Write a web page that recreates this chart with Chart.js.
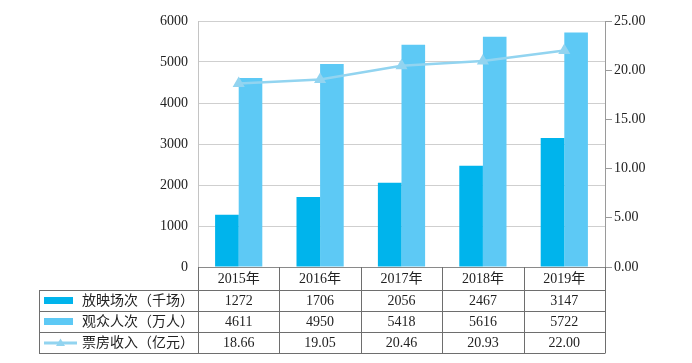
<!DOCTYPE html>
<html><head><meta charset="utf-8">
<script src="https://cdn.jsdelivr.net/npm/chart.js@4/dist/chart.umd.min.js"></script>
<style>html,body{margin:0;padding:0;background:#fff;}#wrap{width:692px;height:363px;}</style>
</head><body><div id="wrap"><canvas id="c" width="692" height="363"></canvas></div>
<script>
const categories = ['2015年', '2016年', '2017年', '2018年', '2019年'];
const screenings = [1272, 1706, 2056, 2467, 3147];
const audience = [4611, 4950, 5418, 5616, 5722];
const boxOffice = [18.66, 19.05, 20.46, 20.93, 22.00];
const seriesNames = ['放映场次（千场）', '观众人次（万人）', '票房收入（亿元）'];

const FONT = "'Liberation Serif', 'Noto Sans CJK SC', serif";
const C_DARK = '#00B4EC', C_LIGHT = '#5DC9F5', C_LINE = '#92D4F0';

const tablePlugin = {
  id: 'dataTable',
  afterDraw(chart) {
    const ctx = chart.ctx, x = chart.scales.x, area = chart.chartArea;
    const step = x.getPixelForValue(1) - x.getPixelForValue(0);
    const right = area.right, top = area.bottom;
    const headerH = 23, rowH = 21, tableLeft = 39;
    const rowsTop = top + headerH;
    const bottom = rowsTop + rowH * 3;
    ctx.save();
    ctx.strokeStyle = '#6e6e6e';
    ctx.lineWidth = 1;
    ctx.beginPath();
    for (let r = 0; r <= 3; r++) {
      const y = Math.round(rowsTop + r * rowH) + 0.5;
      ctx.moveTo(tableLeft, y); ctx.lineTo(right, y);
    }
    ctx.moveTo(tableLeft + 0.5, rowsTop); ctx.lineTo(tableLeft + 0.5, bottom);
    for (let i = 0; i <= categories.length; i++) {
      const bx = Math.round(x.getPixelForValue(0) - step / 2 + i * step) + 0.5;
      ctx.moveTo(bx, top); ctx.lineTo(bx, bottom + 0.5);
    }
    ctx.stroke();
    ctx.fillStyle = '#222';
    ctx.font = '14px ' + FONT;
    ctx.textAlign = 'center';
    ctx.textBaseline = 'middle';
    const rows = [screenings.map(String), audience.map(String), boxOffice.map(v => v.toFixed(2))];
    rows.forEach((vals, r) => {
      const cy = rowsTop + r * rowH + rowH / 2 + 1;
      vals.forEach((v, i) => ctx.fillText(v, x.getPixelForValue(i), cy));
    });
    ctx.textAlign = 'left';
    seriesNames.forEach((name, r) => {
      const cy = rowsTop + r * rowH + rowH / 2;
      if (r < 2) {
        ctx.fillStyle = r === 0 ? C_DARK : C_LIGHT;
        ctx.fillRect(44, cy - 3.5, 29, 7);
      } else {
        ctx.strokeStyle = C_LINE; ctx.lineWidth = 3;
        ctx.beginPath(); ctx.moveTo(44, cy + 0.5); ctx.lineTo(77, cy + 0.5); ctx.stroke();
        ctx.fillStyle = C_LINE;
        ctx.beginPath(); ctx.moveTo(60.5, cy - 4); ctx.lineTo(65, cy + 3.5); ctx.lineTo(56, cy + 3.5); ctx.closePath(); ctx.fill();
      }
      ctx.fillStyle = '#222';
      ctx.fillText(name, 82, cy + 1);
    });
    ctx.restore();
  }
};

new Chart(document.getElementById('c'), {
  data: {
    labels: categories,
    datasets: [
      { type: 'line', label: seriesNames[2], data: boxOffice, yAxisID: 'y1', order: 0,
        borderColor: C_LINE, backgroundColor: C_LINE, borderWidth: 2.5, tension: 0,
        pointStyle: 'triangle', pointRadius: 4.5, pointBackgroundColor: C_LINE, pointBorderColor: C_LINE },
      { type: 'bar', label: seriesNames[0], data: screenings, yAxisID: 'y', order: 1,
        backgroundColor: C_DARK, categoryPercentage: 0.58, barPercentage: 1.0 },
      { type: 'bar', label: seriesNames[1], data: audience, yAxisID: 'y', order: 1,
        backgroundColor: C_LIGHT, categoryPercentage: 0.58, barPercentage: 1.0 }
    ]
  },
  options: {
    responsive: false, animation: false, devicePixelRatio: 1,
    layout: { padding: { top: 21, bottom: 73, left: 0, right: 0 } },
    plugins: { legend: { display: false }, tooltip: { enabled: false } },
    scales: {
      x: {
        grid: { display: false, drawTicks: false },
        border: { display: true, color: '#8a8a8a' },
        ticks: { color: '#222', font: { family: FONT, size: 14 }, padding: 4, maxRotation: 0 },
        afterFit(s) { s.height = 23; }
      },
      y: {
        position: 'left', min: 0, max: 6000,
        ticks: { stepSize: 1000, color: '#222', font: { family: FONT, size: 14 }, padding: 10,
          callback: v => String(v) },
        grid: { color: '#cfcfcf', drawTicks: false },
        border: { display: true, color: '#c4c4c4' },
        afterFit(s) { s.width = 198; }
      },
      y1: {
        position: 'right', min: 0, max: 25,
        ticks: { stepSize: 5, color: '#222', font: { family: FONT, size: 14 }, padding: 2,
          callback: v => Number(v).toFixed(2) },
        grid: { drawOnChartArea: false, tickLength: 7, color: '#9a9a9a' },
        border: { display: true, color: '#9a9a9a' },
        afterFit(s) { s.width = 87; }
      }
    }
  },
  plugins: [tablePlugin]
});
</script></body></html>
